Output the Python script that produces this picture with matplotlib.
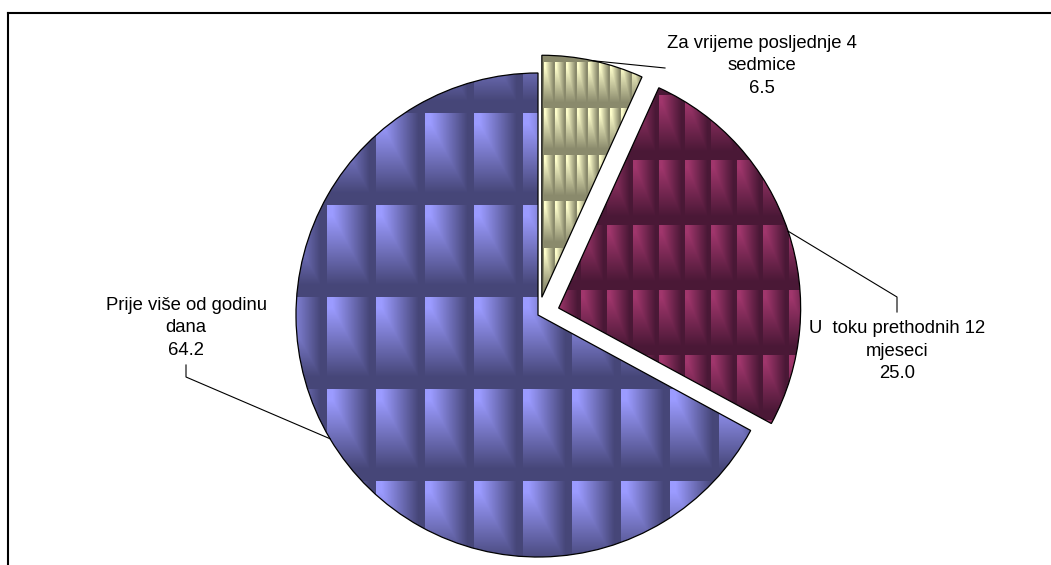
import numpy as np
import matplotlib.pyplot as plt

plt.rcParams['font.family'] = ['Liberation Sans', 'DejaVu Sans']

labels = ['Za vrijeme posljednje 4\nsedmice', 'U  toku prethodnih 12\nmjeseci', 'Prije više od godinu\ndana']
values = [6.5, 25.0, 64.2]
explode = [0.075, 0.09, 0.0]

W, H = 1051, 565
R = 242

# tile pattern per slice: (x0, y0, tile w, tile h, light rgb, dark rgb)
tiles = [
    (555, 62, 11, 46.5, (255, 255, 204), (138, 138, 108)),
    (633, 225, 26, 65, (160, 54, 108), (74, 24, 54)),
    (327, 205, 49, 92, (155, 155, 255), (70, 70, 120)),
]


def texture(x0, y0, tw, th, light, dark):
    yy, xx = np.mgrid[0:H, 0:W] + 0.5
    u = ((xx - x0) % tw) / tw
    w = ((yy - y0) % th) / th
    t = np.clip((np.maximum(u, w) - 0.12) / 0.75, 0, 1)[..., None]
    light = np.array(light) / 255
    dark = np.array(dark) / 255
    return light * (1 - t) + dark * t


fig = plt.figure(figsize=(W / 100, H / 100), dpi=100)
ax = fig.add_axes([0, 0, 1, 1])

# pie explode is in data units, so scale by radius
wedges, _ = ax.pie(values, explode=[e * R for e in explode], startangle=90,
                   counterclock=False, center=(538, H - 315), radius=R,
                   frame=True,
                   wedgeprops=dict(facecolor='none', edgecolor='black',
                                   linewidth=0.9, zorder=3))

for wdg, tl in zip(wedges, tiles):
    im = ax.imshow(texture(*tl), extent=(0, W, 0, H), origin='upper',
                   interpolation='nearest', zorder=2)
    im.set_clip_path(wdg)

# labels: text centre (x, y of middle line), leader bend points
label_pos = [(762, 66), (897, 351), (186, 328)]
leaders = [[(665, 68)], [(897, 297), (897, 312)], [(186, 377), (186, 365)]]

for wdg, lab, v, (tx, ty), pts in zip(wedges, labels, values, label_pos, leaders):
    ang = np.deg2rad((wdg.theta1 + wdg.theta2) / 2)
    sx = wdg.center[0] + wdg.r * np.cos(ang)
    sy = wdg.center[1] + wdg.r * np.sin(ang)
    xs = [sx] + [p[0] for p in pts]
    ys = [sy] + [H - p[1] for p in pts]
    ax.plot(xs, ys, color='black', lw=0.8, zorder=4)
    ax.text(tx, H - ty, lab + '\n%.1f' % v, ha='center', va='center',
            fontsize=13.3, linespacing=1.4, zorder=5)

# chart area border (cropped at right/bottom)
ax.plot([7.5, 7.5], [0, H - 13], color='black', lw=1.5, zorder=6)
ax.plot([7.5, W], [H - 13, H - 13], color='black', lw=1.5, zorder=6)

ax.set_xlim(0, W)
ax.set_ylim(0, H)
ax.axis('off')

fig.savefig('out.png', dpi=100)
